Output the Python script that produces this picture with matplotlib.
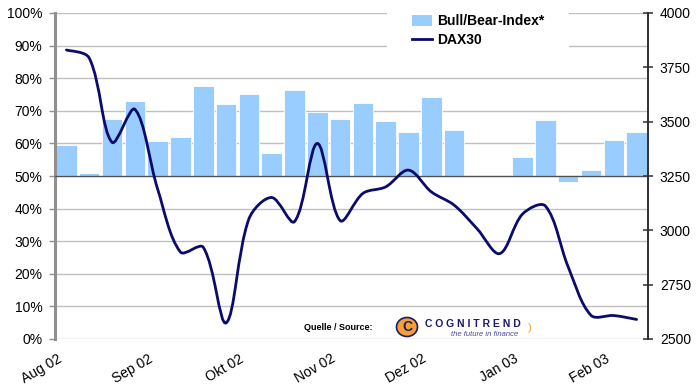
import numpy as np
import matplotlib.pyplot as plt
from matplotlib.path import Path
from matplotlib.patches import PathPatch, Ellipse, Patch
from matplotlib.lines import Line2D
from matplotlib.ticker import FuncFormatter

plt.rcParams['font.family'] = ['Liberation Sans', 'DejaVu Sans']

# weekly values, Aug 2002 - Feb 2003
bull_bear = [59.5, 50.8, 67.5, 73.1, 60.7, 62.0, 77.6, 72.1, 75.2, 57.1, 76.4, 69.6, 67.5,
             72.3, 66.9, 63.5, 74.1, 64.1, np.nan, np.nan, 55.8, 67.2, 48.3, 51.9, 60.9, 63.6]
dax30 = [3830, 3793, 3405, 3557, 3190, 2900, 2922, 2574, 3052, 3151, 3040, 3400, 3045,
         3170, 3200, 3277, 3177, 3116, 3008, 2893, 3075, 3112, 2832, 2609, 2608, 2590]
month_labels = ["Aug 02", "Sep 02", "Okt 02", "Nov 02", "Dez 02", "Jan 03", "Feb 03"]

bar_color = "#99CCFF"
line_color = "#0B0B6B"
grid_color = "#C0C0C0"

fig = plt.figure(figsize=(7, 3.85), dpi=100)
ax = fig.add_axes([55/700, 46/385, 593/700, 326/385])
ax2 = ax.twinx()

n = len(bull_bear)
x = np.arange(n) + 0.5
bb = np.array(bull_bear)
ax.bar(x, bb - 50, bottom=50, width=0.9, color=bar_color, edgecolor="white", linewidth=0.6)
ax.axhline(50, color="#E8A0A0", lw=0.8, zorder=2.5)
ax.axhline(50, color="#505050", lw=0.9, zorder=2.6)

ax.set_xlim(0, n)
ax.set_ylim(0, 100)
ax.set_yticks(np.arange(0, 101, 10))
ax.yaxis.set_major_formatter(FuncFormatter(lambda v, p: "%d%%" % v))
ax.set_axisbelow(True)
ax.yaxis.grid(True, color=grid_color, lw=1)
ax.tick_params(axis="y", direction="out", length=4, width=1, color="#909090",
               labelsize=10, pad=5)
ax.set_xticks(np.arange(0, n, 4) + 0.4)
ax.set_xticklabels(month_labels, rotation=30, ha="right")
ax.tick_params(axis="x", length=0, labelsize=10, pad=9)
for s in ["top", "bottom", "right"]:
    ax.spines[s].set_visible(False)
ax.spines["left"].set_color("#909090")
ax.spines["left"].set_linewidth(2.2)

ax2.set_ylim(2500, 4000)
ax2.set_yticks(np.arange(2500, 4001, 250))
ax2.tick_params(axis="y", direction="inout", length=7, width=1.2, color="#404040",
                labelsize=10, pad=5)
for s in ["top", "bottom", "left"]:
    ax2.spines[s].set_visible(False)
ax2.spines["right"].set_color("#303030")
ax2.spines["right"].set_linewidth(1.4)

# smoothed DAX line: Bezier through the weekly points, tangents scaled by
# on-screen segment lengths (like spreadsheet smoothing)
pts = np.column_stack([x, dax30]).astype(float)
scr = ax2.transData.transform(pts)
seg = np.hypot(*np.diff(scr, axis=0).T)
verts = [pts[0]]
codes = [Path.MOVETO]
for i in range(n - 1):
    p0 = pts[max(i - 1, 0)]
    p1 = pts[i]
    p2 = pts[i + 1]
    p3 = pts[min(i + 2, n - 1)]
    l_prev = seg[i - 1] if i > 0 else seg[i]
    l_next = seg[i + 1] if i + 1 < n - 1 else seg[i]
    c1 = p1 + (p2 - p0) * seg[i] / (l_prev + seg[i]) / 3
    c2 = p2 - (p3 - p1) * seg[i] / (seg[i] + l_next) / 3
    verts += [c1, c2, p2]
    codes += [Path.CURVE4] * 3
ax2.add_patch(PathPatch(Path(verts, codes), fill=False, edgecolor=line_color, lw=2.0,
                        capstyle="round", joinstyle="round"))

handles = [Patch(facecolor=bar_color, edgecolor="none"),
           Line2D([0], [0], color=line_color, lw=2)]
leg = ax2.legend(handles, ["Bull/Bear-Index*", "DAX30"], loc="upper left",
                 bbox_to_anchor=(0.560, 1.073), frameon=True, fancybox=False,
                 edgecolor="white", facecolor="white", framealpha=1,
                 prop={"weight": "bold", "size": 10}, handlelength=1.4,
                 handleheight=0.8, handletextpad=0.4, labelspacing=0.35,
                 borderpad=1.8, borderaxespad=0)
leg.get_frame().set_linewidth(0)
leg.set_zorder(10)

# source note and logo
fig.text(372/700, 1 - 327/385, "Quelle / Source:", fontsize=6.5, fontweight="bold",
         ha="right", va="center")
fig.patches.append(Ellipse((407/700, 1 - 327/385), 21/700, 19/385, transform=fig.transFigure,
                           facecolor="#F5A030", edgecolor="#1A1A6E", lw=1.2))
fig.text(407/700, 1 - 327/385, "C", fontsize=10, fontweight="bold", color="#1A1A6E",
         ha="center", va="center")
fig.text(425/700, 1 - 324/385, "C O G N I T R E N D", fontsize=7.5, fontweight="bold",
         color="#1A1A6E", ha="left", va="center")
fig.text(485/700, 1 - 334/385, "the future in finance", fontsize=5.5, color="#4A4A9A",
         ha="center", va="center", style="italic")
fig.text(530/700, 1 - 328/385, ")", fontsize=8, color="#F5A030", ha="center", va="center")

fig.savefig("out.png", dpi=100)
